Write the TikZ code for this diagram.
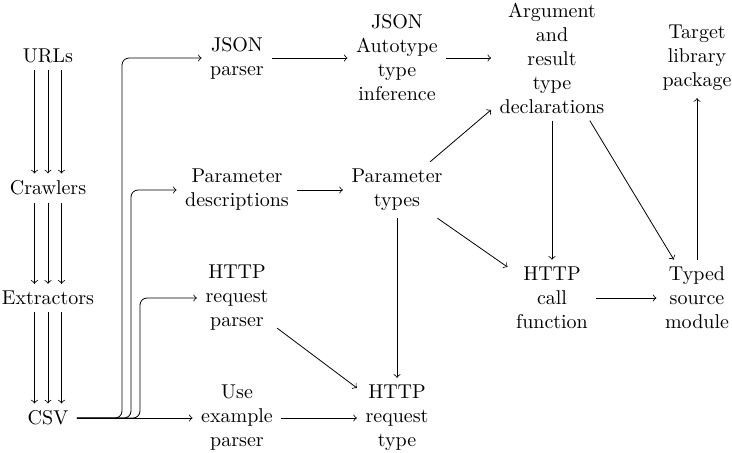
\documentclass[tikz,border=0pt]{standalone}
\usetikzlibrary{calc}
\begin{document}
\begin{tikzpicture}[x=0.5pt,y=-0.5pt,
  box/.style={align=center, inner xsep=1ex, inner ysep=0.85ex, outer sep=0pt},
  flow/.style={->},
  branch/.style={->, rounded corners=3.5pt}]
\useasboundingbox (0,0) rectangle (732,452);

% pipeline on the left
\node[box] (urls)  at (48,56)  {URLs};
\node[box] (crawl) at (48,188) {Crawlers};
\node[box] (extr)  at (48,298) {Extractors};
\node[box] (csv)   at (48,418) {CSV};

% parsers
\node[box] (jp)  at (237,58)  {JSON\\parser};
\node[box] (pd)  at (237,190) {Parameter\\descriptions};
\node[box] (hrp) at (237,298) {HTTP\\request\\parser};
\node[box] (uep) at (237,418) {Use\\example\\parser};

% inferred types
\node[box] (jat) at (397,58)  {JSON\\Autotype\\type\\inference};
\node[box] (pt)  at (397,190) {Parameter\\types};
\node[box] (hrt) at (397,418) {HTTP\\request\\type};

% generated code
\node[box] (arg) at (552,58)  {Argument\\and\\result\\type\\declarations};
\node[box] (hcf) at (552,298) {HTTP\\call\\function};
\node[box] (tlp) at (697,58)  {Target\\library\\package};
\node[box] (tsm) at (697,298) {Typed\\source\\module};

% triple arrows down the left column
\foreach \s in {-6.75pt,0pt,6.75pt} {
  \draw[flow] ([xshift=\s]urls.south)  -- ([xshift=\s]crawl.north);
  \draw[flow] ([xshift=\s]crawl.south) -- ([xshift=\s]extr.north);
  \draw[flow] ([xshift=\s]extr.south)  -- ([xshift=\s]csv.north);
}

% CSV fans out to the parsers
\coordinate (b1) at (122,418);
\coordinate (b2) at (131,418);
\coordinate (b3) at (140,418);
\draw[branch] (csv.east) -| (b1 |- jp.west)  -- (jp.west);
\draw[branch] (csv.east) -| (b2 |- pd.west)  -- (pd.west);
\draw[branch] (csv.east) -| (b3 |- hrp.west) -- (hrp.west);
\draw[flow] (csv) -- (uep);

% remaining connections
\draw[flow] (jp)  -- (jat);
\draw[flow] (jat) -- (arg);
\draw[flow] (pd)  -- (pt);
\draw[flow] (pt)  -- (arg);
\draw[flow] (pt)  -- (hcf);
\draw[flow] (pt)  -- (hrt);
\draw[flow] (hrp) -- (hrt);
\draw[flow] (uep) -- (hrt);
\draw[flow] (arg) -- (hcf);
\draw[flow] (arg) -- (tsm);
\draw[flow] (hcf) -- (tsm);
\draw[flow] (tsm) -- (tlp);
\end{tikzpicture}
\end{document}
